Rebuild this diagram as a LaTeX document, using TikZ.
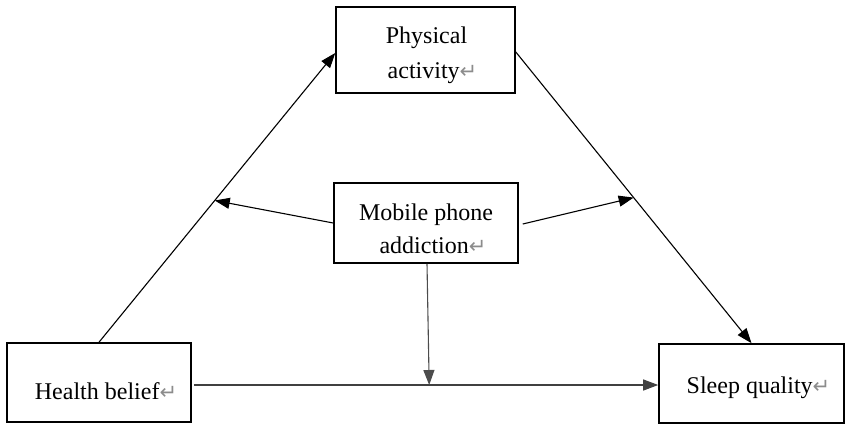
\documentclass[tikz,border=0pt]{standalone}
\usepackage{fontspec}
\setmainfont{Liberation Serif}
\newfontfamily\dvfont{DejaVu Sans}
\usetikzlibrary{arrows.meta,calc}
\newcommand{\retmark}{{\dvfont\fontsize{21}{21}\selectfont\color[gray]{0.55}\symbol{"21B5}}}
\newcommand{\placetext}[2]{\smash{\raisebox{#1}{\begin{tabular}[t]{@{}c@{}}#2\end{tabular}}}}
\tikzset{
  box/.style={draw=black, line width=1.6pt, inner sep=0pt,
    font=\fontsize{24}{35}\selectfont},
  conn/.style={line width=1.1pt, -{Triangle[length=15pt,width=11pt]}},
}
\begin{document}
\begin{tikzpicture}[x=1pt,y=-1pt]
\useasboundingbox (0,0) rectangle (851,431);
\node[box, minimum width=179pt, minimum height=86pt] (pa) at (425.5,50) {\placetext{7pt}{\hspace*{2pt}Physical\\[0pt]\hspace*{14pt}activity\retmark}};
\node[box, minimum width=184pt, minimum height=79pt] (hb) at (99,382.5) {\placetext{-17pt}{\hspace*{14pt}Health belief\retmark}};
\node[box, minimum width=185pt, minimum height=79pt] (sq) at (751.5,383.5) {\placetext{-9.5pt}{\hspace*{14pt}Sleep quality\retmark}};
\node[box, minimum width=184pt, minimum height=80pt] (mb) at (426,223) {\placetext{3pt}{Mobile phone\\[-2pt]\hspace*{14pt}addiction\retmark}};
\coordinate (pl) at ($(hb.north)!0.49!([yshift=-3pt]pa.west)$);
\coordinate (pr) at ($([yshift=-2pt]pa.east)!0.5!(sq.north)$);
\coordinate (pb) at ($([yshift=-2.5pt]hb.east)!0.509!([yshift=-1.5pt]sq.west)$);
\draw[conn] (hb.north) -- ([yshift=-3pt]pa.west);
\draw[conn] ([yshift=-2pt]pa.east) -- (sq.north);
\draw[conn, draw=black!75] ([xshift=2pt,yshift=-2.5pt]hb.east) -- ([yshift=-1.5pt]sq.west);
\draw[conn] (mb.west) -- (pl);
\draw[conn] ([xshift=4pt,yshift=-1pt]mb.east) -- (pr);
\draw[conn, draw=black!70] ([xshift=1pt]mb.south) -- (pb);
\end{tikzpicture}
\end{document}
